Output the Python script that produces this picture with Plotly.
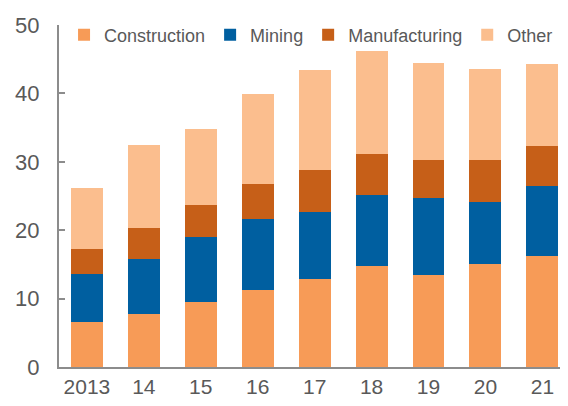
import plotly.graph_objects as go

years = ["2013", "14", "15", "16", "17", "18", "19", "20", "21"]
construction = [6.6, 7.8, 9.5, 11.2, 12.9, 14.7, 13.5, 15.1, 16.2]
mining = [7.0, 8.0, 9.5, 10.4, 9.7, 10.5, 11.2, 9.0, 10.2]
manufacturing = [3.6, 4.5, 4.7, 5.2, 6.2, 6.0, 5.6, 6.2, 5.9]
other = [8.9, 12.1, 11.1, 13.1, 14.6, 15.0, 14.2, 13.3, 12.0]

series = [
    ("Construction", construction, "#F79B57"),
    ("Mining", mining, "#005FA0"),
    ("Manufacturing", manufacturing, "#C65F18"),
    ("Other", other, "#FBBE8E"),
]

fig = go.Figure()
for name, vals, col in series:
    fig.add_trace(go.Bar(x=years, y=vals, name=name, marker=dict(color=col, line=dict(width=0))))

# the page body has an 8px default margin, so the figure is sized to fit inside it
font_family = "Liberation Sans, Arial, sans-serif"
fig.update_layout(
    barmode="stack",
    bargap=0.44,
    width=560, height=398,
    margin=dict(l=51, r=4, t=17, b=39, autoexpand=False),
    paper_bgcolor="white", plot_bgcolor="white",
    font=dict(family=font_family, size=21, color="#595959"),
    legend=dict(orientation="h", x=0.01, y=1.025, xanchor="left", yanchor="top",
                bgcolor="rgba(0,0,0,0)", font=dict(size=18, color="#595959"),
                itemwidth=30, tracegroupgap=0, traceorder="normal"),
    xaxis=dict(range=[-0.49, 8.38], showline=True, linecolor="#8C8C8C", linewidth=2,
               ticks="", showgrid=False, tickfont=dict(size=21), automargin=False),
    yaxis=dict(range=[0, 50], dtick=10, showline=True, linecolor="#8C8C8C", linewidth=2,
               ticks="inside", ticklen=6, tickcolor="#8C8C8C", tickwidth=2,
               showgrid=False, zeroline=False, tickfont=dict(size=22), ticklabelstandoff=13,
               automargin=False),
)

fig.write_html("out.html")
